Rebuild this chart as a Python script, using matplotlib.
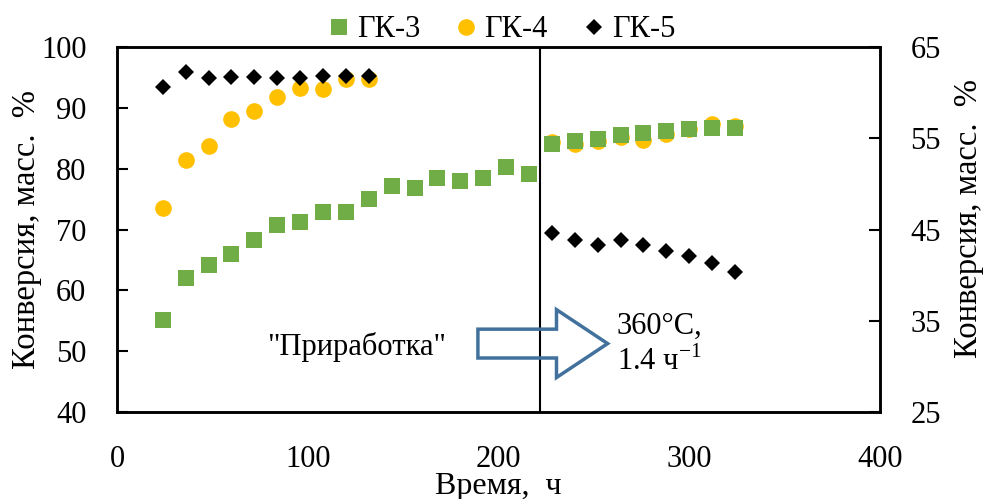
import numpy as np
import matplotlib
matplotlib.use("Agg")
from matplotlib import pyplot as plt
from matplotlib.patches import FancyArrow

plt.rcParams['font.family'] = ['Liberation Serif', 'DejaVu Serif']
plt.rcParams['mathtext.fontset'] = 'custom'
plt.rcParams['mathtext.rm'] = 'Liberation Serif'

# время, ч
time_h = [24, 36, 48, 60, 72, 84, 96, 108, 120, 132, 144, 156, 168,
          180, 192, 204, 216, 228, 240, 252, 264, 276, 288, 300, 312, 324]
# ГК-3 (левая ось)
gk3 = [55.1, 62.1, 64.2, 65.9, 68.2, 70.7, 71.2, 72.9, 72.9, 75.0, 77.1, 76.9, 78.4,
       78.0, 78.4, 80.3, 79.2, 84.0, 84.5, 84.8, 85.6, 85.9, 86.2, 86.5, 86.7, 86.7]
# ГК-4 (левая ось)
time_gk4 = [24, 36, 48, 60, 72, 84, 96, 108, 120, 132,
            228, 240, 252, 264, 276, 288, 300, 312, 324]
gk4 = [73.6, 81.5, 83.7, 88.1, 89.4, 91.8, 93.3, 93.1, 94.8, 94.8,
       84.4, 84.1, 84.5, 85.2, 84.7, 85.7, 86.6, 87.4, 87.0]
# ГК-5 (правая ось)
time_gk5 = [24, 36, 48, 60, 72, 84, 96, 108, 120, 132,
            228, 240, 252, 264, 276, 288, 300, 312, 324]
gk5 = [60.6, 62.3, 61.6, 61.7, 61.7, 61.6, 61.6, 61.8, 61.8, 61.8,
       44.6, 43.9, 43.3, 43.9, 43.3, 42.6, 42.1, 41.3, 40.3]

switch_time = 222  # смена режима

fig, ax = plt.subplots(figsize=(9.85, 4.99), dpi=100)
fig.subplots_adjust(left=0.1188, right=0.8934, top=0.9058, bottom=0.1743)
ax2 = ax.twinx()

l4, = ax.plot(time_gk4, gk4, 'o', color='#FFC000', ms=12, mew=0, label='ГК-4', zorder=2)
l3, = ax.plot(time_h, gk3, 's', color='#70AD47', ms=12, mew=0, label='ГК-3', zorder=3)
l5, = ax2.plot(time_gk5, gk5, 'D', color='black', ms=8.5, mew=0, label='ГК-5')
ax.axvline(switch_time, color='black', lw=1.5, zorder=1)

ax.set_xlim(0, 400)
ax.set_ylim(40, 100)
ax2.set_ylim(25, 65)
ax.set_xticks(range(0, 401, 100))
ax.set_yticks(range(40, 101, 10))
ax2.set_yticks(range(25, 66, 10))

fs = 22
ax.tick_params(axis='y', direction='in', length=8, width=1.5, labelsize=fs, pad=22)
ax.tick_params(axis='x', length=0, labelsize=fs, pad=24)
ax2.tick_params(axis='y', direction='in', length=8, width=1.5, labelsize=fs, pad=22)
for a in (ax, ax2):
    for s in a.spines.values():
        s.set_linewidth(1.8)

ax.set_ylabel('Конверсия, масс.  %', fontsize=23.5)
ax.yaxis.set_label_coords(-0.098, 0.5)
ax2.set_ylabel('Конверсия, масс.  %', fontsize=23.5, rotation=90)
ax2.yaxis.set_label_coords(1.096, 0.53)
ax.set_xlabel('Время,  ч', fontsize=23)
ax.xaxis.set_label_coords(0.5, -0.163)

arrow = FancyArrow(0.473, 0.1875, 0.17, 0, width=0.079, head_width=0.186,
                   head_length=0.067, length_includes_head=True,
                   transform=ax.transAxes, fill=False, ec='#41719C', lw=2.5, zorder=4)
ax.add_patch(arrow)
ax.text(0.3145, 0.178, '"Приработка"', transform=ax.transAxes, fontsize=fs,
        ha='center', va='center')
ax.text(0.655, 0.186, '360°C,\n1.4 ч$^{\\mathregular{-1}}$', transform=ax.transAxes,
        fontsize=fs, ha='left', va='center', linespacing=1.25)

fig.legend(handles=[l3, l4, l5], loc='center', bbox_to_anchor=(0.507, 0.94), ncol=3,
           frameon=False, fontsize=fs, handletextpad=0.1, columnspacing=1.0,
           handlelength=1.0, borderpad=0)

fig.savefig('out.png', dpi=100)
